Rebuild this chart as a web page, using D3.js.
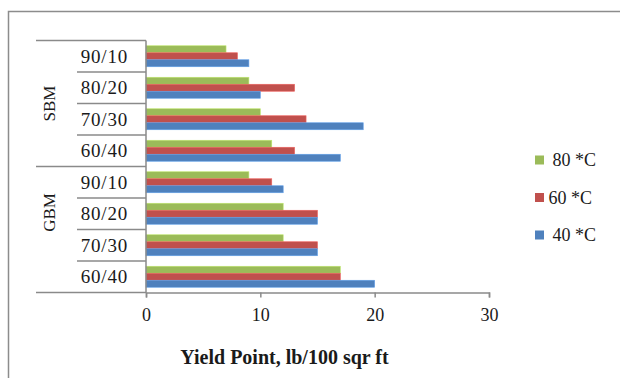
<!DOCTYPE html>
<html>
<head>
<meta charset="utf-8">
<script src="https://cdn.jsdelivr.net/npm/d3@7/dist/d3.min.js"></script>
<style>
  html, body { margin: 0; padding: 0; background: #fff; }
  svg { display: block; }
  text { font-family: "Liberation Serif", "DejaVu Serif", serif; fill: #1a1a1a; }
</style>
</head>
<body>
<svg id="chart" width="620" height="378"></svg>
<script>
// Yield point of the mud blends, grouped by base fluid and oil/water ratio
const groups = ["SBM", "GBM"];
const ratios = ["90/10", "80/20", "70/30", "60/40"];
const seriesNames = ["80 *C", "60 *C", "40 *C"];
const seriesColors = ["#9BBB59", "#C0504D", "#4F81BD"];
const values80 = [7, 9, 10, 11, 9, 12, 12, 17];
const values60 = [8, 13, 14, 13, 11, 15, 15, 17];
const values40 = [9, 10, 19, 17, 12, 15, 15, 20];
const xTicks = [0, 10, 20, 30];
const xTitle = "Yield Point, lb/100 sqr ft";

const seriesValues = [values80, values60, values40];
const categories = [];
groups.forEach(g => ratios.forEach(r => categories.push({ key: g + " " + r, group: g, ratio: r })));

const svg = d3.select("#chart");
const axisColor = "#8a8a8a";

// outer frame of the chart area
svg.append("rect")
  .attr("x", 8.5).attr("y", 11.5)
  .attr("width", 700).attr("height", 500)
  .attr("fill", "none").attr("stroke", "#8c8c8c").attr("stroke-width", 1.5);

const x = d3.scaleLinear().domain([0, 30]).range([146, 489]);
const y = d3.scaleBand().domain(categories.map(c => c.key)).range([40.5, 292.5]).paddingInner(0).paddingOuter(0);
const ySeries = d3.scaleBand().domain(seriesNames).range([0, y.bandwidth()]).paddingInner(0).paddingOuter(0.75);

// bars
const rows = [];
categories.forEach((c, i) => seriesNames.forEach((s, j) => rows.push({ cat: c.key, series: s, value: seriesValues[j][i], color: seriesColors[j] })));

svg.append("g").selectAll("rect").data(rows).join("rect")
  .attr("x", x(0))
  .attr("y", d => y(d.cat) + ySeries(d.series))
  .attr("width", d => x(d.value) - x(0))
  .attr("height", ySeries.bandwidth())
  .attr("fill", d => d.color)
  .attr("stroke", d => d3.color(d.color).brighter(0.6))
  .attr("stroke-width", 0.6);

// value axis
const xAxis = svg.append("g")
  .attr("transform", "translate(0,292.5)")
  .call(d3.axisBottom(x).tickValues(xTicks).tickSize(5).tickSizeOuter(5).tickPadding(11));
xAxis.select(".domain").attr("stroke", axisColor).attr("stroke-width", 1.5);
xAxis.selectAll(".tick line").attr("stroke", axisColor).attr("stroke-width", 1.5);
xAxis.selectAll(".tick text")
  .attr("font-family", "Liberation Serif, serif")
  .attr("font-size", 18).attr("fill", "#1a1a1a");

// category axis line
svg.append("line")
  .attr("x1", x(0)).attr("x2", x(0))
  .attr("y1", y.range()[0]).attr("y2", y.range()[1])
  .attr("stroke", axisColor).attr("stroke-width", 1.5);

// separators between ratio labels and between groups
const bounds = d3.range(categories.length + 1).map(i => y.range()[0] + i * y.step());
svg.append("g").selectAll("line").data(bounds).join("line")
  .attr("x1", (d, i) => (i % ratios.length === 0) ? 36 : 77)
  .attr("x2", x(0))
  .attr("y1", d => d).attr("y2", d => d)
  .attr("stroke", axisColor).attr("stroke-width", 1.5);

// ratio labels
svg.append("g").selectAll("text").data(categories).join("text")
  .attr("x", 128)
  .attr("y", d => y(d.key) + y.bandwidth() / 2)
  .attr("dy", "0.35em")
  .attr("text-anchor", "end")
  .attr("font-size", 19)
  .attr("letter-spacing", 0.8)
  .text(d => d.ratio);

// group labels, rotated
const groupCenters = { SBM: 103.5, GBM: 212.5 };
svg.append("g").selectAll("text").data(groups).join("text")
  .attr("transform", g => `translate(49,${groupCenters[g]}) rotate(-90)`)
  .attr("text-anchor", "middle")
  .attr("dy", "0.35em")
  .attr("font-size", 17)
  .text(g => g);

// axis title
svg.append("text")
  .attr("x", 284.5).attr("y", 357)
  .attr("dy", "0.35em")
  .attr("text-anchor", "middle")
  .attr("font-size", 20)
  .attr("font-weight", "bold")
  .text(xTitle);

// legend
const legendY = [160, 197.5, 235];
const legendTextX = [552.5, 548.5, 552.5];
const legend = svg.append("g").selectAll("g").data(seriesNames).join("g");
legend.append("rect")
  .attr("x", 535).attr("y", (d, i) => legendY[i] - 4.5)
  .attr("width", 9).attr("height", 9)
  .attr("fill", (d, i) => seriesColors[i]);
legend.append("text")
  .attr("x", (d, i) => legendTextX[i])
  .attr("y", (d, i) => legendY[i])
  .attr("dy", "0.35em")
  .attr("font-size", 18)
  .text(d => d);
</script>
</body>
</html>
